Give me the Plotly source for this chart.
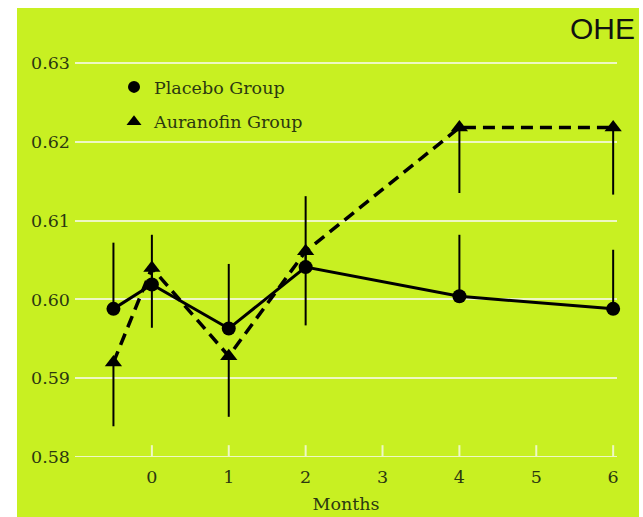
import plotly.graph_objects as go

months = [-0.5, 0, 1, 2, 4, 6]
placebo = [0.5988, 0.6019, 0.5963, 0.6041, 0.6004, 0.5988]
placebo_err_up = [0.0084, 0.0063, 0.0082, 0.0090, 0.0078, 0.0075]
auranofin = [0.5920, 0.6040, 0.5928, 0.6061, 0.6218, 0.6218]
auranofin_err_down = [0.0081, 0.0076, 0.0077, 0.0094, 0.0083, 0.0085]
y_ticks = [0.58, 0.59, 0.60, 0.61, 0.62, 0.63]
y_tick_labels = ["0.58", "0.59", "0.60", "0.61", "0.62", "0.63"]
x_ticks = [0, 1, 2, 3, 4, 5, 6]

GREEN = "#c8f022"
TEXT = "#2b3810"
GRID = "#eef8c4"
FONT = "DejaVu Serif"
FS = 17.5

fig = go.Figure()

fig.add_trace(go.Scatter(
    x=months, y=placebo, mode="lines+markers", name="Placebo Group",
    line=dict(color="black", width=3),
    marker=dict(symbol="circle", size=14, color="black"),
    error_y=dict(type="data", array=placebo_err_up, arrayminus=[0] * len(months),
                 symmetric=False, color="black", thickness=2, width=0),
    showlegend=False, cliponaxis=False,
))
fig.add_trace(go.Scatter(
    x=months, y=auranofin, mode="lines+markers", name="Auranofin Group",
    line=dict(color="black", width=3.5, dash="12px,7px"),
    marker=dict(symbol="triangle-up", size=15, color="black"),
    error_y=dict(type="data", array=[0] * len(months), arrayminus=auranofin_err_down,
                 symmetric=False, color="black", thickness=2, width=0),
    showlegend=False, cliponaxis=False,
))
# legend-only entries (marker symbols only)
fig.add_trace(go.Scatter(x=[None], y=[None], mode="markers", name="Placebo Group",
                         marker=dict(symbol="circle", size=12, color="black"),
                         legendgroup="p"))
fig.add_trace(go.Scatter(x=[None], y=[None], mode="markers", name="Auranofin Group",
                         marker=dict(symbol="triangle-up", size=13, color="black"),
                         legendgroup="a"))

L, R, T, B = 75, 26, 59, 60
W, H = 643, 517
pw, ph = W - L - R, H - T - B
Y_TOP = 0.58 + ph / 7880.0  # 78.8 px per 0.01, so 0.63 line sits just inside

def px(xpix):
    return (xpix - L) / pw

def py(ypix):
    return (H - B - ypix) / ph

# white page borders around the green panel
fig.add_shape(type="rect", xref="paper", yref="paper",
              x0=px(-5), x1=px(17), y0=py(H + 5), y1=py(-5),
              fillcolor="white", line_width=0, layer="below")
fig.add_shape(type="rect", xref="paper", yref="paper",
              x0=px(-5), x1=px(W + 5), y0=py(8), y1=py(-5),
              fillcolor="white", line_width=0, layer="below")
fig.add_shape(type="rect", xref="paper", yref="paper",
              x0=px(639), x1=px(W + 5), y0=py(H + 5), y1=py(-5),
              fillcolor="white", line_width=0, layer="below")

fig.add_annotation(text="OHE", xref="paper", yref="paper",
                   x=px(602), y=py(28), xanchor="center", yanchor="middle",
                   showarrow=False, font=dict(family="Liberation Sans", size=30, color="#111111"))

fig.update_layout(
    width=W, height=H,
    margin=dict(l=L, r=R, t=T, b=B, autoexpand=False),
    paper_bgcolor=GREEN, plot_bgcolor=GREEN,
    font=dict(family=FONT, size=FS, color=TEXT),
    legend=dict(x=px(114), y=py(69), xanchor="left", yanchor="top",
                bgcolor="rgba(0,0,0,0)", font=dict(family=FONT, size=FS, color=TEXT),
                tracegroupgap=9, traceorder="grouped", itemwidth=30),
    xaxis=dict(range=[-1, 6.05], tickvals=x_ticks, showgrid=False, zeroline=False,
               showline=False, ticks="", ticklabelstandoff=7, automargin=False,
               tickfont=dict(size=FS, color=TEXT),
               title=dict(text="Months", font=dict(size=FS, color=TEXT), standoff=12)),
    yaxis=dict(range=[0.58, Y_TOP], tickvals=y_ticks, ticktext=y_tick_labels,
               showgrid=True, gridcolor=GRID, gridwidth=2, zeroline=False,
               showline=False, ticks="", ticklabelstandoff=4, automargin=False,
               tickfont=dict(size=FS, color=TEXT)),
)

# x-axis baseline with inward tick marks
fig.add_shape(type="line", xref="x", yref="y", x0=-1, x1=6.05, y0=0.58, y1=0.58,
              line=dict(color=GRID, width=2), layer="below")
for t in x_ticks:
    fig.add_shape(type="line", xref="x", yref="y", x0=t, x1=t, y0=0.58, y1=0.5815,
                  line=dict(color=GRID, width=2), layer="below")

fig.write_html("out.html", config={"displayModeBar": False},
               post_script="document.body.style.margin='0';document.body.style.overflow='hidden';")
